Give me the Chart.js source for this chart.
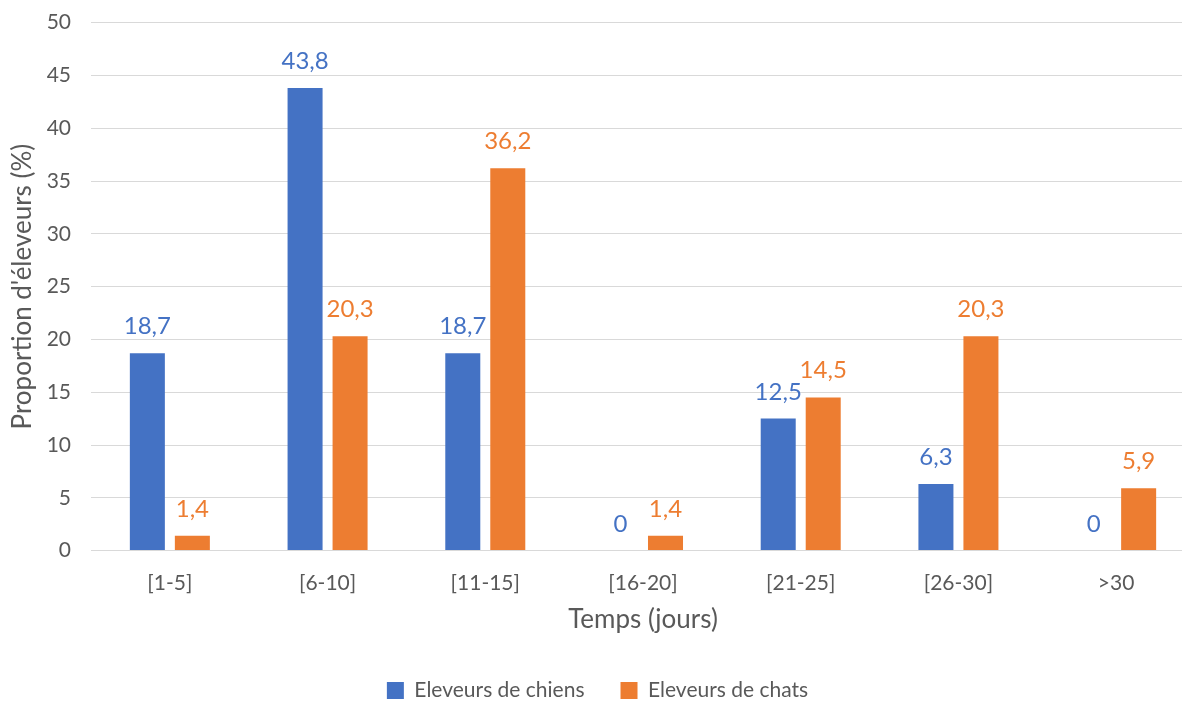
<!DOCTYPE html>
<html>
<head>
<meta charset="utf-8">
<script src="https://cdn.jsdelivr.net/npm/chart.js@4"></script>
<style>
  html, body { margin: 0; padding: 0; background: #fff; overflow: hidden; }
  /* the original plot runs a bit past the edges of the picture */
  #wrap { width: 1195px; height: 721px; margin-top: -10px; }
</style>
</head>
<body>
<div id="wrap"><canvas id="graph"></canvas></div>
<script>
const categories = ['[1-5]', '[6-10]', '[11-15]', '[16-20]', '[21-25]', '[26-30]', '>30'];
const chiens = [18.7, 43.8, 18.7, 0, 12.5, 6.3, 0];
const chats = [1.4, 20.3, 36.2, 1.4, 14.5, 20.3, 5.9];
const yMax = 50;
const yStep = 5;

const FONT = 'Lato, Carlito, Calibri, sans-serif';
const BLUE = '#4472C4';
const ORANGE = '#ED7D31';
const GREY = '#595959';

// labels above bars, french decimal comma
const valeurs = {
  id: 'valeurs',
  afterDatasetsDraw(chart) {
    const ctx = chart.ctx;
    ctx.save();
    ctx.font = '24px ' + FONT;
    ctx.textAlign = 'center';
    ctx.textBaseline = 'alphabetic';
    chart.data.datasets.forEach(function(ds, i) {
      const meta = chart.getDatasetMeta(i);
      ctx.fillStyle = ds.backgroundColor;
      meta.data.forEach(function(bar, j) {
        const txt = String(ds.data[j]).replace('.', ',');
        ctx.fillText(txt, bar.x, bar.y - 19);
      });
    });
    ctx.restore();
  }
};

new Chart(document.getElementById('graph'), {
  type: 'bar',
  data: {
    labels: categories,
    datasets: [
      { label: 'Eleveurs de chiens', data: chiens, backgroundColor: BLUE },
      { label: 'Eleveurs de chats', data: chats, backgroundColor: ORANGE }
    ]
  },
  options: {
    responsive: true,
    maintainAspectRatio: false,
    animation: false,
    categoryPercentage: 0.5707,
    barPercentage: 0.778,
    layout: { padding: { top: 2, right: 0, left: 0, bottom: 0 } },
    plugins: {
      tooltip: { enabled: false },
      legend: {
        position: 'bottom',
        labels: {
          color: GREY,
          font: { family: FONT, size: 21 },
          boxWidth: 17,
          boxHeight: 17,
          padding: 36
        }
      }
    },
    scales: {
      x: {
        grid: { display: false, drawTicks: false },
        border: { display: false },
        ticks: { color: GREY, font: { family: FONT, size: 21 }, padding: 20 },
        title: {
          display: true,
          text: 'Temps (jours)',
          color: GREY,
          font: { family: FONT, size: 26 },
          padding: { top: -12, bottom: 9 }
        }
      },
      y: {
        min: 0,
        max: yMax,
        grid: { color: '#d9d9d9', lineWidth: 1, drawTicks: false },
        border: { display: false },
        ticks: { stepSize: yStep, color: GREY, font: { family: FONT, size: 21 }, padding: 20 },
        title: {
          display: true,
          text: "Proportion d'éleveurs (%)",
          color: GREY,
          font: { family: FONT, size: 26 },
          padding: { top: 7, bottom: 0 }
        },
        afterFit: function(scale) { scale.width = 91; }
      }
    }
  },
  plugins: [valeurs]
});
</script>
</body>
</html>
